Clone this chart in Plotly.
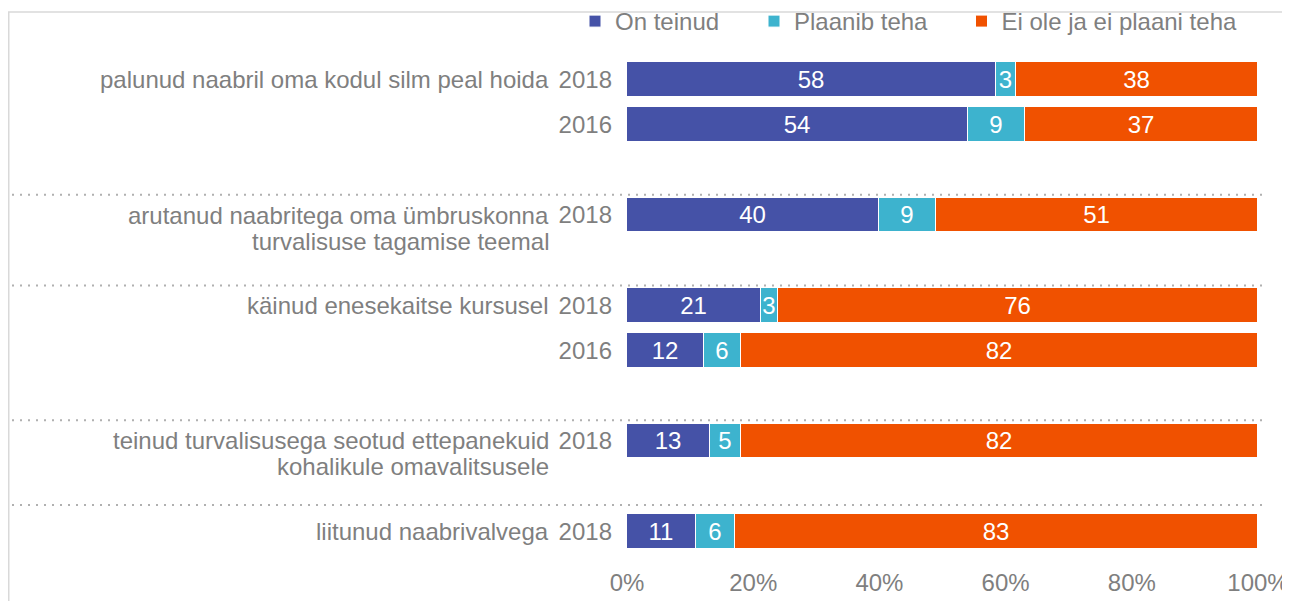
import plotly.graph_objects as go

# ---- data ----
groups = [
    ["palunud naabril oma kodul silm peal hoida"],
    ["arutanud naabritega oma ümbruskonna", "turvalisuse tagamise teemal"],
    ["käinud enesekaitse kursusel"],
    ["teinud turvalisusega seotud ettepanekuid", "kohalikule omavalitsusele"],
    ["liitunud naabrivalvega"],
]
years = ["2018", "2016", "2018", "2018", "2016", "2018", "2018"]
series_names = ["On teinud", "Plaanib teha", "Ei ole ja ei plaani teha"]
on_teinud = [58.4, 54.1, 39.9, 21.2, 12.2, 13.1, 11.0]
plaanib_teha = [3.2, 8.9, 9.0, 2.8, 5.8, 4.9, 6.1]
ei_ole = [38.4, 37.0, 51.1, 76.0, 82.0, 82.0, 82.9]
x_tickvals = [0, 20, 40, 60, 80, 100]
x_ticktext = ["0%", "20%", "40%", "60%", "80%", "100%"]

# ---- layout helpers (positions / styles) ----
row_slots = [0, 1, 3, 5, 6, 8, 10]          # vertical slot of each bar
group_first_row = [0, 2, 3, 5, 6]           # index of first bar in each group
separators = [2.55, 4.56, 7.54, 9.42]       # dotted separator lines (slot units)
colors = ["#4552A7", "#3DB3CE", "#F05100"]
TXT = "#7f7f7f"
FONT = "Liberation Sans, Arial, sans-serif"
FS = 24

OFF = 8  # page body margin
W, H = 1290 - OFF, 601 - OFF
ML = 627 - OFF
MT = 45 - OFF
MR = W - (1258 - OFF)
MB = H - (566 - OFF)
PW, PH = W - ML - MR, H - MT - MB

def px_x(px):  # page pixel -> paper x
    return (px - OFF - ML) / PW

def px_y(py):  # page pixel -> paper y
    return 1 - (py - OFF - MT) / PH

fig = go.Figure()
legend_ids = ["legend", "legend2", "legend3"]
for name, vals, col, lg in zip(series_names, [on_teinud, plaanib_teha, ei_ole], colors, legend_ids):
    fig.add_trace(go.Bar(
        y=row_slots, x=vals, name=name, orientation="h",
        marker=dict(color=col, line=dict(color="white", width=1)),
        width=0.77,
        texttemplate="%{x:.0f}", textposition="inside", insidetextanchor="middle",
        textangle=0, constraintext="none",
        textfont=dict(color="white", size=FS, family=FONT),
        legend=lg, showlegend=True, hoverinfo="x+name",
    ))

unit_px = 45.18
top_off = (79.5 - 45) / unit_px
y_range = [PH / unit_px - top_off, -top_off]

legend_items_px = [575, 754, 961.5]
legend_common = dict(orientation="h", xanchor="left", yanchor="middle",
                     y=px_y(21.5), font=dict(size=FS, color=TXT, family=FONT),
                     bgcolor="rgba(0,0,0,0)", borderwidth=0, visible=True)

fig.update_layout(
    width=W, height=H,
    margin=dict(l=ML, r=MR, t=MT, b=MB, autoexpand=False),
    paper_bgcolor="white", plot_bgcolor="white",
    barmode="stack", bargap=0, showlegend=True,
    font=dict(family=FONT, size=FS, color=TXT),
    uniformtext=dict(minsize=FS, mode="show"),
    legend=dict(x=px_x(legend_items_px[0]), **legend_common),
    legend2=dict(x=px_x(legend_items_px[1]), **legend_common),
    legend3=dict(x=px_x(legend_items_px[2]), **legend_common),
    xaxis=dict(range=[0, 100], tickvals=x_tickvals, ticktext=x_ticktext, showgrid=False,
               zeroline=False, showline=False, ticks="", automargin=False,
               tickfont=dict(size=FS, color=TXT, family=FONT), fixedrange=True),
    yaxis=dict(range=y_range, tickvals=row_slots, ticktext=years, showgrid=False,
               zeroline=False, showline=False, ticks="", automargin=False,
               ticklabelstandoff=14,
               tickfont=dict(size=FS, color=TXT, family=FONT), fixedrange=True),
)

# group labels
for lines, ri in zip(groups, group_first_row):
    for k, line in enumerate(lines):
        fig.add_annotation(
            x=px_x(551), xref="paper", xanchor="right",
            y=row_slots[ri] + k * 26 / unit_px, yref="y", yanchor="middle",
            text=line, showarrow=False,
            font=dict(size=FS, color=TXT, family=FONT),
        )

# dotted separators
for s in separators:
    fig.add_shape(type="line", xref="paper", yref="y",
                  x0=px_x(12), x1=px_x(1264), y0=s, y1=s,
                  line=dict(color="#b0b0b0", width=2, dash="2px,6px"))

# chart frame
fig.add_shape(type="rect", xref="paper", yref="paper",
              x0=px_x(8.75), x1=px_x(1400), y0=px_y(700), y1=px_y(12),
              line=dict(color="#d9d9d9", width=1.5), fillcolor="rgba(0,0,0,0)",
              layer="below")

fig.write_html("out.html")
